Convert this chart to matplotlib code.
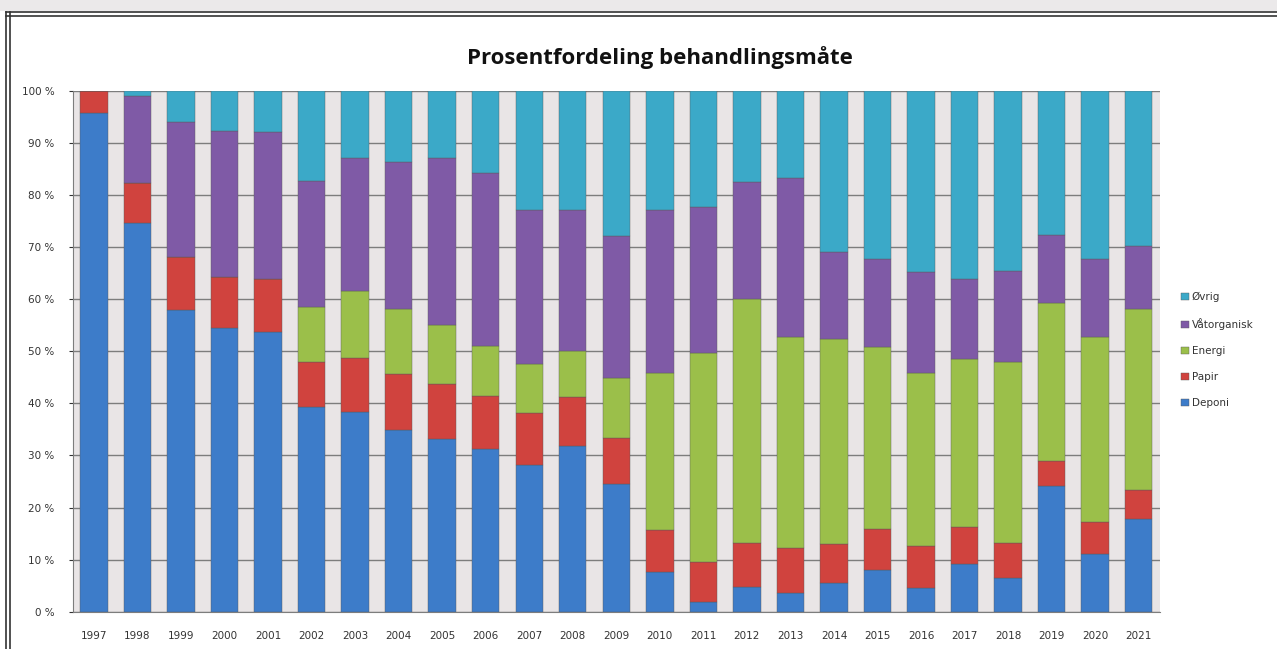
import matplotlib.pyplot as plt
from matplotlib.lines import Line2D
from matplotlib.patches import Rectangle
import numpy as np

years = [str(y) for y in range(1997, 2022)]
categories = ['Deponi', 'Papir', 'Energi', 'Våtorganisk', 'Øvrig']

deponi      = [95.7, 74.6, 58.0, 54.4, 53.7, 39.4, 38.3, 34.8, 33.2, 31.2, 28.2, 31.9, 24.6,
               7.6, 1.8, 4.7, 3.5, 5.5, 8.0, 4.6, 9.2, 6.4, 24.2, 11.1, 17.8]
papir       = [4.3, 7.8, 10.1, 9.9, 10.1, 8.5, 10.5, 10.9, 10.6, 10.3, 10.0, 9.4, 8.8,
               8.0, 7.7, 8.4, 8.7, 7.5, 7.9, 8.0, 7.0, 6.7, 4.8, 6.1, 5.5]
energi      = [0.0, 0.0, 0.0, 0.0, 0.0, 10.6, 12.8, 12.5, 11.2, 9.5, 9.4, 8.7, 11.5,
               30.2, 40.2, 47.0, 40.5, 39.4, 34.9, 33.2, 32.4, 34.8, 30.3, 35.5, 34.9]
vatorganisk = [0.0, 16.6, 26.0, 28.1, 28.4, 24.2, 25.6, 28.2, 32.1, 33.2, 29.5, 27.1, 27.2,
               31.3, 28.1, 22.5, 30.5, 16.7, 17.0, 19.5, 15.2, 17.5, 13.0, 15.1, 12.0]
ovrig       = [0.0, 1.0, 5.9, 7.6, 7.8, 17.3, 12.8, 13.6, 12.9, 15.8, 22.9, 22.9, 27.9,
               22.9, 22.2, 17.4, 16.8, 30.9, 32.2, 34.7, 36.2, 34.6, 27.7, 32.2, 29.8]

colors = ['#3d7cc9', '#d0433e', '#9bbf4a', '#7f5aa6', '#3ba9c8']
series = [deponi, papir, energi, vatorganisk, ovrig]

fig = plt.figure(figsize=(12.77, 6.49), dpi=100)
fig.patch.set_facecolor('white')

# faded strip above the frame and the double frame line
fig.patches.append(Rectangle((0, 1 - 11 / 649), 1, 11 / 649, transform=fig.transFigure,
                             facecolor='#ebe9ea', edgecolor='none', zorder=0))
for yy in [1 - 12 / 649, 1 - 15.5 / 649]:
    fig.lines.append(Line2D([6 / 1277, 1], [yy, yy], transform=fig.transFigure, color='#333333', lw=1.2))
for xx in [6 / 1277, 9.5 / 1277]:
    fig.lines.append(Line2D([xx, xx], [0, 1 - 12 / 649], transform=fig.transFigure, color='#333333', lw=1.2))

ax = fig.add_axes([72.6 / 1277, 1 - 611.7 / 649, (1160 - 72.6) / 1277, (611.7 - 91) / 649])
ax.set_facecolor('#e9e5e6')

x = np.arange(len(years))
bottom = np.zeros(len(years))
handles = []
for name, vals, c in zip(categories, series, colors):
    b = ax.bar(x, vals, 0.63, bottom=bottom, color=c, label=name, zorder=3,
               edgecolor='#5a5a5a', linewidth=0.3)
    bottom += np.array(vals)
    handles.append(b)

ax.set_xlim(-0.49, 24.49)
ax.set_ylim(0, 100)
ax.set_yticks(range(0, 101, 10))
ax.set_yticklabels([f'{v} %' for v in range(0, 101, 10)])
ax.set_xticks(x)
ax.set_xticklabels(years)
ax.tick_params(axis='both', labelsize=7.5, colors='#333333', length=3, width=0.8)
ax.tick_params(axis='y', pad=10)
ax.tick_params(axis='x', length=0, pad=14)
ax.yaxis.grid(True, color='#7d7d7d', lw=1, zorder=1)
ax.set_axisbelow(True)
for s in ['top', 'right']:
    ax.spines[s].set_visible(False)
ax.spines['left'].set_color('#7d7d7d')
ax.spines['bottom'].set_color('#7d7d7d')

fig.text(660 / 1277, 1 - 58 / 649, 'Prosentfordeling behandlingsmåte', ha='center', va='center',
         fontsize=16, fontweight='bold', family='Open Sans', color='#111111')

leg = fig.legend(handles[::-1], categories[::-1], loc='center left',
                 bbox_to_anchor=(1172 / 1277, 1 - 350 / 649), frameon=False,
                 fontsize=7.5, handlelength=0.7, handleheight=0.7, handletextpad=0.3,
                 labelspacing=1.55, labelcolor='#333333')

fig.savefig('out.png', dpi=100)
